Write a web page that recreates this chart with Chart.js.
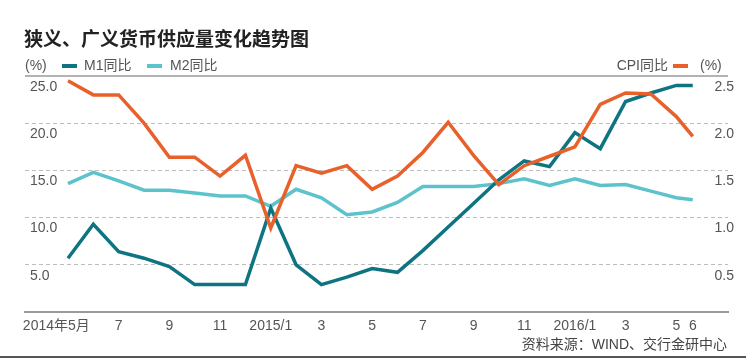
<!DOCTYPE html>
<html>
<head>
<meta charset="utf-8">
<script src="https://cdn.jsdelivr.net/npm/chart.js@4"></script>
<style>
  body { margin: 0; background: #fff; }
  #wrap { position: relative; width: 746px; height: 359px; font-family: "Liberation Sans", "Noto Sans CJK SC", sans-serif; color: #555; }
  canvas { position: absolute; left: 0; top: 0; }
  .t { position: absolute; white-space: nowrap; line-height: 1; font-size: 14px; }
  .sw { position: absolute; width: 15px; height: 4px; }
</style>
</head>
<body>
<div id="wrap">
  <canvas id="chart" width="746" height="359"></canvas>
  <div class="t" style="left:24px;top:28px;font-size:19px;font-weight:bold;color:#222;font-family:'Noto Sans CJK SC',sans-serif">狭义、广义货币供应量变化趋势图</div>
  <div class="t" style="left:25px;top:58px">(%)</div>
  <div class="sw" style="left:62px;top:64px;background:#0f7482"></div>
  <div class="t" style="left:84px;top:58px">M1同比</div>
  <div class="sw" style="left:147px;top:64px;background:#5cc3cd"></div>
  <div class="t" style="left:170px;top:58px">M2同比</div>
  <div class="t" style="right:78px;top:58px">CPI同比</div>
  <div class="sw" style="left:673px;top:64px;background:#e8602a"></div>
  <div class="t" style="left:700px;top:58px">(%)</div>
  <div class="t" style="right:19px;top:337px;color:#444">资料来源：WIND、交行金研中心</div>
  <div style="position:absolute;left:0;top:356px;width:746px;height:2px;background:#555"></div>
</div>
<script>
// months since 2014-05; the last observation (2016-06) sits closer, as in the source
const monthX = [0, 1, 2, 3, 4, 5, 6, 7, 8, 9, 10, 11, 12, 13, 14, 15, 16, 17, 18, 19, 20, 21, 22, 23, 24, 24.65];
const tickIdx = [0, 2, 4, 6, 8, 10, 12, 14, 16, 18, 20, 22, 24, 24.65];
const tickText = ['2014年5月      ', '7', '9', '11', '2015/1', '3', '5', '7', '9', '11', '2016/1', '3', '5', '6'];

const m1 = [5.7, 9.3, 6.4, 5.7, 4.8, 2.9, 2.9, 2.9, 11.0, 5.0, 2.9, 3.7, 4.6, 4.2, 6.5, 9.0, 11.5, 14.0, 16.0, 15.4, 19.0, 17.3, 22.3, 23.2, 24.0, 24.0];
const m2 = [13.6, 14.8, 13.9, 12.9, 12.9, 12.6, 12.3, 12.3, 11.2, 13.0, 12.1, 10.3, 10.6, 11.6, 13.3, 13.3, 13.3, 13.6, 14.1, 13.4, 14.1, 13.4, 13.5, 12.8, 12.1, 11.9];
const cpi = [2.45, 2.3, 2.3, 2.0, 1.64, 1.64, 1.44, 1.66, 0.89, 1.55, 1.47, 1.55, 1.30, 1.44, 1.69, 2.01, 1.66, 1.35, 1.55, 1.65, 1.75, 2.2, 2.32, 2.31, 2.07, 1.86];

const toXY = arr => arr.map((v, i) => ({ x: monthX[i], y: v }));

// solid line at the top of the plot
const topLine = {
  id: 'topLine',
  beforeDatasetsDraw(c) {
    const a = c.chartArea, g = c.ctx;
    g.save();
    g.strokeStyle = '#9a9a9a';
    g.lineWidth = 1.5;
    g.beginPath();
    g.moveTo(a.left, a.top);
    g.lineTo(a.right, a.top);
    g.stroke();
    g.restore();
  }
};

const tickFont = { family: '"Liberation Sans", "Noto Sans CJK SC", sans-serif', size: 14 };

const ctx = document.getElementById('chart').getContext('2d');
const chart = new Chart(ctx, {
  type: 'line',
  data: {
    datasets: [
      { label: 'CPI同比', data: toXY(cpi), yAxisID: 'y2', borderColor: '#e8602a', order: 1 },
      { label: 'M1同比', data: toXY(m1), yAxisID: 'y', borderColor: '#0f7482', order: 2 },
      { label: 'M2同比', data: toXY(m2), yAxisID: 'y', borderColor: '#5cc3cd', order: 3 }
    ]
  },
  options: {
    responsive: false,
    animation: false,
    layout: { padding: { top: 76 } },
    plugins: { legend: { display: false }, tooltip: { enabled: false } },
    elements: {
      point: { radius: 0 },
      line: { borderWidth: 3.5, tension: 0 }
    },
    scales: {
      x: {
        type: 'linear',
        min: -1.696,
        max: 26.04,
        afterBuildTicks: s => { s.ticks = tickIdx.map(v => ({ value: v })); },
        afterFit: s => { s.height = 47; },
        ticks: {
          autoSkip: false,
          maxRotation: 0,
          padding: 6,
          color: '#555',
          font: tickFont,
          callback: v => { const k = tickIdx.indexOf(v); return k < 0 ? '' : tickText[k]; }
        },
        grid: { display: false, drawTicks: false },
        border: { color: '#9a9a9a', width: 2 }
      },
      y: {
        position: 'left',
        min: 0,
        max: 25,
        afterFit: s => { s.width = 25; },
        ticks: {
          stepSize: 5,
          mirror: true,
          padding: 5,
          labelOffset: 11,
          color: '#555',
          font: tickFont,
          callback: v => v === 0 ? '' : v.toFixed(1)
        },
        grid: {
          drawTicks: false,
          lineWidth: 1,
          color: c => (c.tick.value === 0 || c.tick.value === 25) ? 'rgba(0,0,0,0)' : '#bdbdbd'
        },
        border: { display: false, dash: [4, 3] }
      },
      y2: {
        position: 'right',
        min: 0,
        max: 2.5,
        afterFit: s => { s.width = 18; },
        ticks: {
          stepSize: 0.5,
          mirror: true,
          padding: 6,
          labelOffset: 11,
          color: '#555',
          font: tickFont,
          callback: v => v === 0 ? '' : v.toFixed(1)
        },
        grid: { display: false },
        border: { display: false }
      }
    }
  },
  plugins: [topLine]
});
</script>
</body>
</html>
